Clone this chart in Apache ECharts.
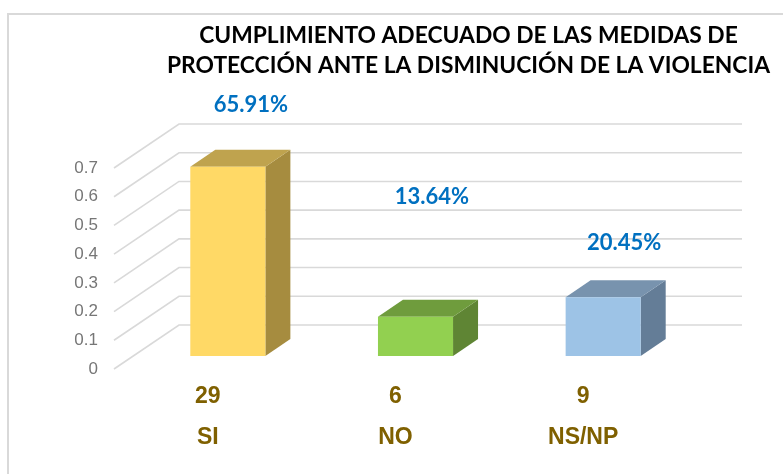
<!DOCTYPE html>
<html>
<head>
<meta charset="utf-8">
<script src="https://cdn.jsdelivr.net/npm/echarts@6/dist/echarts.min.js"></script>
<style>
html, body { margin: 0; padding: 0; background: #fff; }
#my { width: 783px; height: 474px; }
</style>
</head>
<body>
<div id="my"></div>
<script>
var titleText = "CUMPLIMIENTO ADECUADO DE LAS MEDIDAS DE\nPROTECCIÓN ANTE LA DISMINUCIÓN DE LA VIOLENCIA";
var categories = ["SI", "NO", "NS/NP"];
var counts = [29, 6, 9];
var shares = [0.6591, 0.1364, 0.2045];
var wallTicks = [0, 0.1, 0.2, 0.3, 0.4, 0.5, 0.6, 0.7];

// cara frontal, superior, lateral
var barColors = [
    ["#ffd966", "#bfa34e", "#a68c3f"],
    ["#92d050", "#6f9c3d", "#5f8534"],
    ["#9dc3e6", "#7893ae", "#647d97"]
];
// posicion de las etiquetas de % respecto a la barra (puestas a mano en el original)
var labelShiftX = [23, 16.5, 21];
var labelLift = [62, 120, 54];

var wallDepth = [65, -44];
var barOffset = [20, -13];
var barDepth = [25, -17];

var chart = echarts.init(document.getElementById("my"));

function wallItem(params, api) {
    var cs = params.coordSys;
    var y = api.coord([0, api.value(1)])[1];
    return {
        type: "polyline",
        shape: {
            points: [
                [cs.x, y],
                [cs.x + wallDepth[0], y + wallDepth[1]],
                [cs.x + cs.width + wallDepth[0], y + wallDepth[1]]
            ]
        },
        style: { stroke: "#d9d9d9", lineWidth: 1.6, fill: null }
    };
}

function barItem(params, api) {
    var i = params.dataIndex;
    var top = api.coord([api.value(0), api.value(1)]);
    var base = api.coord([api.value(0), 0]);
    var w = api.size([1, 0])[0] * 0.4;
    var x0 = top[0] - w / 2 + barOffset[0];
    var x1 = x0 + w;
    var yt = top[1] + barOffset[1];
    var yb = base[1] + barOffset[1];
    var dx = barDepth[0], dy = barDepth[1];
    var c = barColors[i];
    return {
        type: "group",
        children: [
            { type: "polygon", shape: { points: [[x1, yb], [x1 + dx, yb + dy], [x1 + dx, yt + dy], [x1, yt]] }, style: { fill: c[2] } },
            { type: "polygon", shape: { points: [[x0, yt], [x0 + dx, yt + dy], [x1 + dx, yt + dy], [x1, yt]] }, style: { fill: c[1] } },
            { type: "rect", shape: { x: x0, y: yt, width: w, height: yb - yt }, style: { fill: c[0] } },
            {
                type: "text",
                style: {
                    x: top[0] + barOffset[0] + labelShiftX[i],
                    y: yt - labelLift[i],
                    text: (api.value(1) * 100).toFixed(2) + "%",
                    fill: "#0070c0",
                    font: "bold 22px Lato",
                    align: "center",
                    verticalAlign: "middle"
                }
            }
        ]
    };
}

var option = {
    animation: false,
    backgroundColor: "#fff",
    title: {
        text: titleText,
        left: 463.5,
        top: 16,
        textAlign: "center",
        textStyle: { fontFamily: "Lato", fontWeight: "bold", fontSize: 22.8, lineHeight: 30, color: "#000" }
    },
    graphic: [{
        type: "polyline",
        shape: { points: [[8, 474], [8, 14], [783, 14]] },
        style: { stroke: "#d9d9d9", lineWidth: 2, fill: null }
    }],
    grid: { left: 114, top: 168, width: 563, height: 201 },
    xAxis: {
        type: "category",
        data: categories,
        axisLine: { show: false },
        axisTick: { show: false },
        axisLabel: {
            margin: 7,
            interval: 0,
            formatter: function (value, index) {
                return "{c|" + counts[index] + "}\n{c|" + value + "}";
            },
            rich: {
                c: { fontFamily: "Liberation Sans", fontWeight: "bold", fontSize: 23, lineHeight: 41, color: "#7f6000" }
            }
        }
    },
    yAxis: {
        type: "value",
        min: 0,
        max: 0.7,
        interval: 0.1,
        axisLine: { show: false },
        axisTick: { show: false },
        splitLine: { show: false },
        axisLabel: { margin: 16, padding: [4, 0, 0, 0], fontFamily: "Liberation Sans", fontSize: 17, color: "#767676" }
    },
    series: [
        {
            type: "custom",
            renderItem: wallItem,
            data: wallTicks.map(function (t) { return [0, t]; }),
            encode: { x: 0, y: 1 },
            silent: true,
            z: 1
        },
        {
            type: "custom",
            renderItem: barItem,
            data: shares.map(function (s, i) { return [i, s]; }),
            encode: { x: 0, y: 1 },
            z: 2
        }
    ]
};
chart.setOption(option);
</script>
</body>
</html>
